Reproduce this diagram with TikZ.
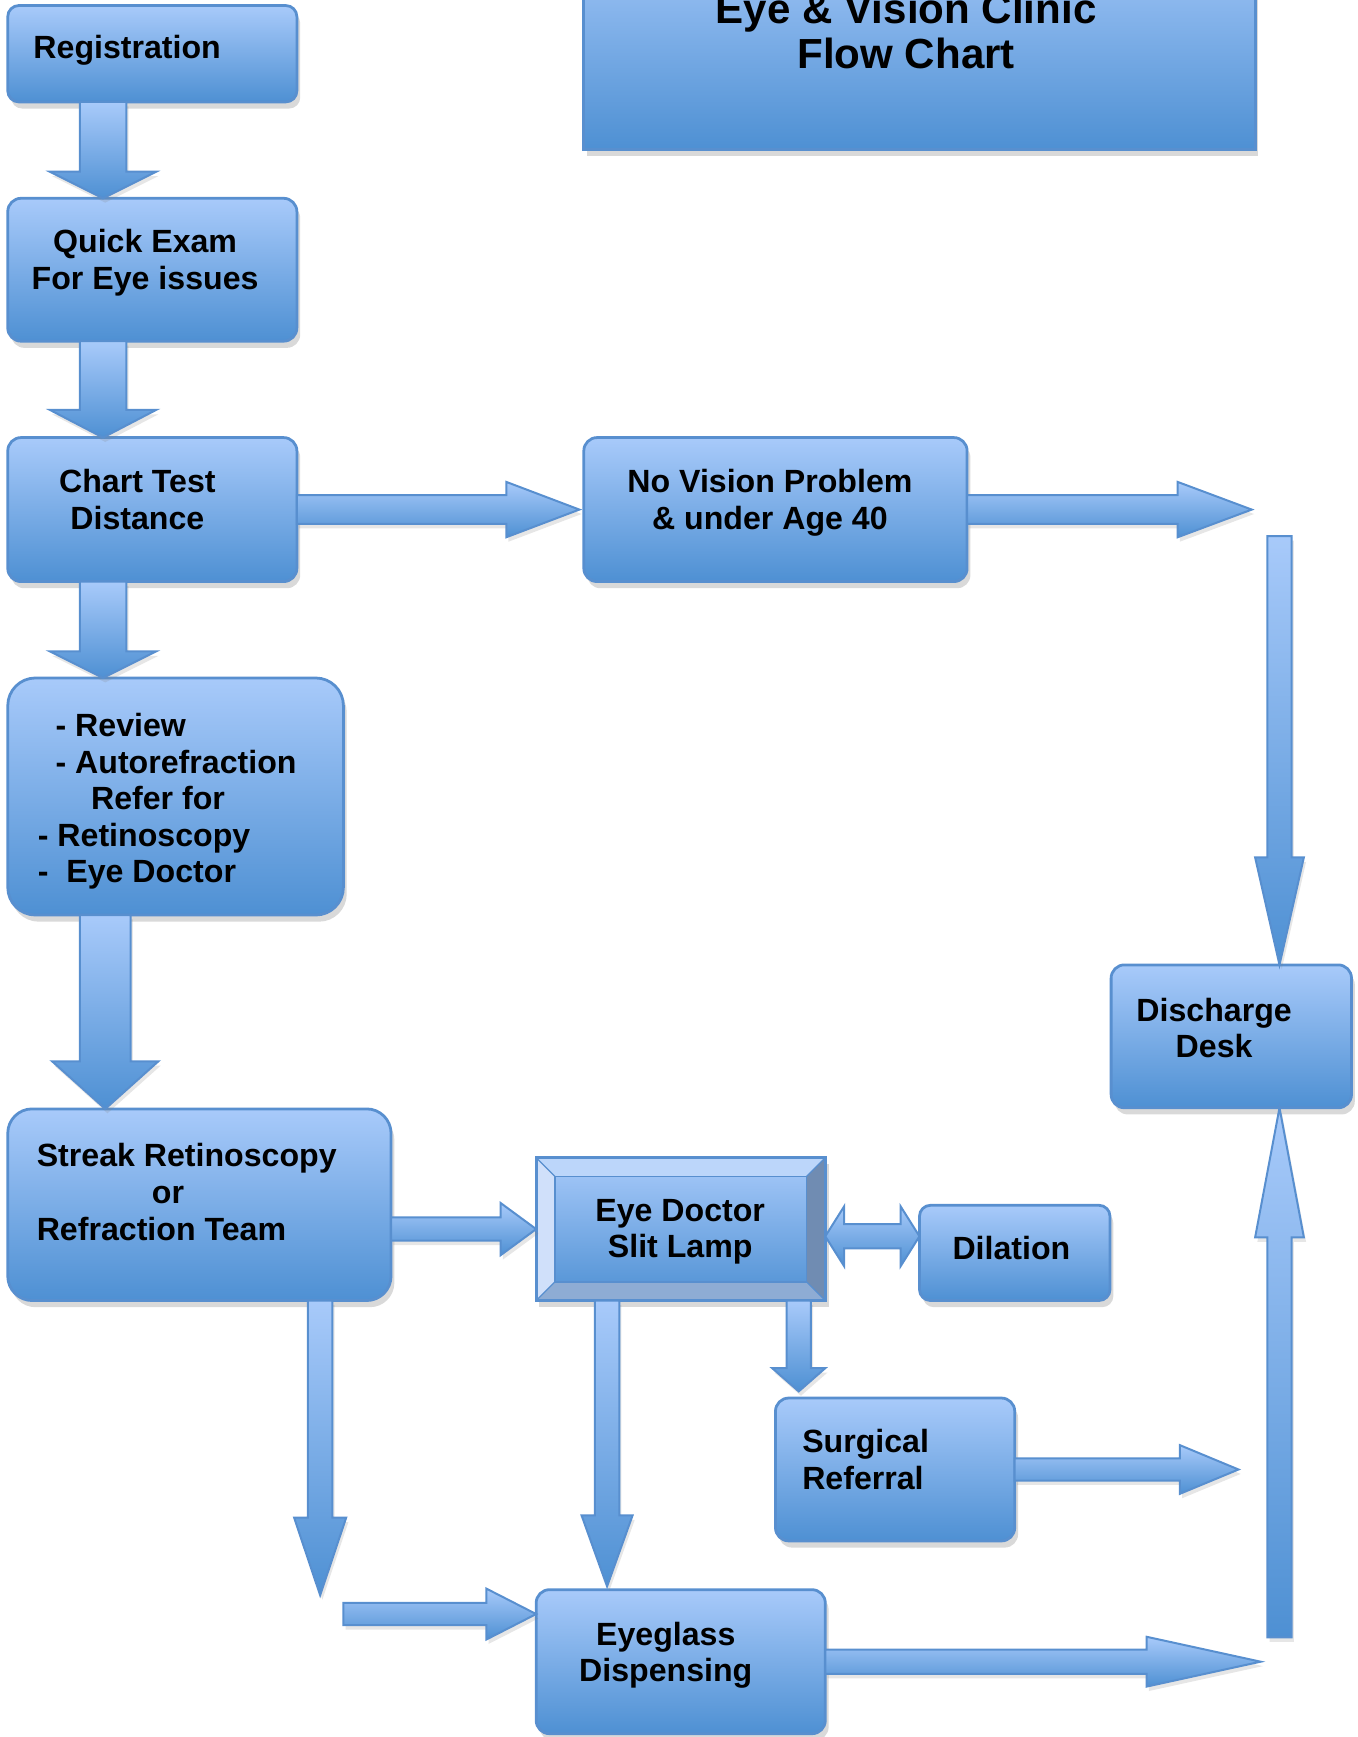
\documentclass[tikz,border=0pt]{standalone}
\usepackage{fontspec}
\setmainfont{Liberation Sans}
\usetikzlibrary{calc,positioning,shadows}

\definecolor{boxtop}{RGB}{168,202,250}
\definecolor{boxbot}{RGB}{78,144,211}
\definecolor{boxline}{RGB}{88,143,207}
\definecolor{facettop}{RGB}{188,214,250}
\definecolor{facetleft}{RGB}{208,224,250}
\definecolor{facetright}{RGB}{112,140,178}
\definecolor{facetbottom}{RGB}{142,172,212}

\tikzset{
  box/.style={draw=boxline, line width=2.5pt, rounded corners=12pt, top color=boxtop, bottom color=boxbot,
    outer sep=0pt, inner sep=0pt, drop shadow={shadow xshift=3pt, shadow yshift=-6pt, opacity=.3}},
  txt/.style={font=\bfseries\fontsize{29}{33}\selectfont, align=center, inner sep=0pt},
  % block arrow: half shaft, half head, head length
  flowarrow/.style n args={3}{draw=boxline, line width=1.8pt, top color=boxtop, bottom color=boxbot,
    drop shadow={shadow xshift=2pt, shadow yshift=-4pt, opacity=.2},
    to path={
      ($(\tikztostart)!#1!90:(\tikztotarget)$)
      -- ($($(\tikztotarget)!#3!(\tikztostart)$)!#1!-90:(\tikztostart)$)
      -- ($($(\tikztotarget)!#3!(\tikztostart)$)!#2!-90:(\tikztostart)$)
      -- (\tikztotarget)
      -- ($($(\tikztotarget)!#3!(\tikztostart)$)!#2!90:(\tikztostart)$)
      -- ($($(\tikztotarget)!#3!(\tikztostart)$)!#1!90:(\tikztostart)$)
      -- ($(\tikztostart)!#1!-90:(\tikztotarget)$)
      -- cycle}},
  % same, head at both ends
  duoarrow/.style n args={3}{draw=boxline, line width=1.8pt, top color=boxtop, bottom color=boxbot,
    to path={
      (\tikztostart)
      -- ($($(\tikztostart)!#3!(\tikztotarget)$)!#2!90:(\tikztotarget)$)
      -- ($($(\tikztostart)!#3!(\tikztotarget)$)!#1!90:(\tikztotarget)$)
      -- ($($(\tikztotarget)!#3!(\tikztostart)$)!#1!-90:(\tikztostart)$)
      -- ($($(\tikztotarget)!#3!(\tikztostart)$)!#2!-90:(\tikztostart)$)
      -- (\tikztotarget)
      -- ($($(\tikztotarget)!#3!(\tikztostart)$)!#2!90:(\tikztostart)$)
      -- ($($(\tikztotarget)!#3!(\tikztostart)$)!#1!90:(\tikztostart)$)
      -- ($($(\tikztostart)!#3!(\tikztotarget)$)!#1!-90:(\tikztotarget)$)
      -- ($($(\tikztostart)!#3!(\tikztotarget)$)!#2!-90:(\tikztotarget)$)
      -- cycle}},
}

\begin{document}
\begin{tikzpicture}[x=1pt, y=-1pt]
    \path[use as bounding box] (0,0) rectangle (1225,1568);
    \clip (0,0) rectangle (1225,1568);

    % title
    \node[box, sharp corners, minimum width=606pt, minimum height=200pt] (title) at (830,35) {};
    \node[txt, font=\bfseries\fontsize{38}{40}\selectfont] (title-t) at (818,28) {Eye \& Vision Clinic\\Flow Chart};

    % left column
    \node[box, rounded corners=10pt, minimum width=261pt, minimum height=87pt] (reg) at (137.5,48.5) {};
    \node[box, minimum width=261pt, minimum height=129pt, below=87pt of reg] (quick) {};
    \node[box, minimum width=261pt, minimum height=130pt, below=87pt of quick] (chart) {};
    \node[box, rounded corners=25pt, minimum width=303pt, minimum height=214pt, below=87pt of chart.south west, anchor=north west] (review) {};
    \node[box, rounded corners=22pt, minimum width=346pt, minimum height=173pt, below=175pt of review.south west, anchor=north west] (streak) {};
    \node[txt, anchor=west] (reg-t) at (30,45) {Registration};
    \node[txt] (quick-t) at (131,237) {Quick Exam\\For Eye issues};
    \node[txt] (chart-t) at (124,451) {Chart Test\\Distance};
    \node[txt, align=left, anchor=west] (review-t) at (34,723.5) {\hspace*{16pt}- Review\\\hspace*{16pt}- Autorefraction\\\hspace*{48pt}Refer for\\- Retinoscopy\\-\ \ Eye Doctor};
    \node[txt, align=left, anchor=west] (streak-t) at (33,1076) {Streak Retinoscopy\\\hspace*{104pt}or\\Refraction Team};

    % right part
    \node[box, minimum width=346pt, minimum height=130pt, right=259pt of chart] (novis) {};
    \node[txt] (novis-t) at (695,454) {No Vision Problem\\\& under Age 40};
    \node[box, minimum width=217pt, minimum height=129pt] (dd) at (1111.5,935.5) {};
    \node[txt] (dd-t) at (1096,928) {Discharge\\Desk};
    \node[box, sharp corners, minimum width=261pt, minimum height=129pt] (doc) at (614.5,1109.5) {};
    \fill[facettop] (doc.north west) -- (doc.north east) -- ([shift={(-17,17)}]doc.north east) -- ([shift={(17,17)}]doc.north west) -- cycle;
    \fill[facetright] (doc.north east) -- (doc.south east) -- ([shift={(-17,-17)}]doc.south east) -- ([shift={(-17,17)}]doc.north east) -- cycle;
    \fill[facetbottom] (doc.south east) -- (doc.south west) -- ([shift={(17,-17)}]doc.south west) -- ([shift={(-17,-17)}]doc.south east) -- cycle;
    \fill[facetleft] (doc.south west) -- (doc.north west) -- ([shift={(17,17)}]doc.north west) -- ([shift={(17,-17)}]doc.south west) -- cycle;
    \draw[boxline, line width=1.5pt] ([shift={(17,17)}]doc.north west) rectangle ([shift={(-17,-17)}]doc.south east);
    \draw[boxline, line width=1.2pt] (doc.north west) -- ++(17,17) (doc.north east) -- ++(-17,17)
        (doc.south west) -- ++(17,-17) (doc.south east) -- ++(-17,-17);
    \draw[boxline, line width=2.5pt] (doc.north west) rectangle (doc.south east);
    \node[txt] (doc-t) at (614,1112) {Eye Doctor\\Slit Lamp};
    \node[box, rounded corners=10pt, minimum width=172pt, minimum height=86pt] (dil) at (916,1131) {};
    \node[txt] (dil-t) at (913,1127) {Dilation};
    \node[box, minimum width=216pt, minimum height=129pt] (surg) at (808,1326.5) {};
    \node[txt, align=left, anchor=west] (surg-t) at (724,1317.5) {Surgical\\Referral};
    \node[box, minimum width=261pt, minimum height=130pt] (glass) at (614.5,1500) {};
    \node[txt] (glass-t) at (601,1494) {Eyeglass\\Dispensing};

    % free ends
    \coordinate (nvend) at (1130,460);
    \coordinate (ddtop) at (1155,484);
    \coordinate (surgend) at (1118,1326.5);
    \coordinate (streakend) at (289,1440);
    \coordinate (glassin) at (310,1457);
    \coordinate (glassend) at (1138,1500);
    \coordinate (ddbot) at (1155,1478);

    % arrows
    \draw[flowarrow={21pt}{48pt}{24pt}] ([xshift=-44.5pt]reg.south) to ([xshift=-44.5pt]quick.north);
    \draw[flowarrow={21pt}{48pt}{25pt}] ([xshift=-44.5pt]quick.south) to ([xshift=-44.5pt]chart.north);
    \draw[flowarrow={21pt}{48pt}{24pt}] ([xshift=-44.5pt]chart.south) to ([xshift=-65.5pt]review.north);
    \draw[flowarrow={23pt}{48pt}{43pt}] ([xshift=-63.5pt]review.south) to ([xshift=-85pt]streak.north);
    \draw[flowarrow={13pt}{25pt}{66pt}] (chart.east) to ([xshift=-4pt]novis.west);
    \draw[flowarrow={13pt}{25pt}{67pt}] (novis.east) to (nvend);
    \draw[flowarrow={11pt}{22pt}{97pt}] (ddtop) to (ddtop |- dd.north);
    \draw[flowarrow={10.5pt}{23.5pt}{32pt}] (streak.east |- doc.west) to (doc.west);
    \draw[duoarrow={11pt}{27pt}{17pt}] ([yshift=-6.5pt]doc.east) to ([yshift=15pt]dil.west);
    \draw[flowarrow={11pt}{24pt}{21pt}] ([xshift=106.5pt]doc.south) to ([xshift=-87pt,yshift=6pt]surg.north);
    \draw[flowarrow={10pt}{22pt}{53pt}] (surg.east) to (surgend);
    \draw[flowarrow={11pt}{23pt}{64pt}] ([xshift=-66.5pt]doc.south) to ([xshift=-66.5pt,yshift=3pt]glass.north);
    \draw[flowarrow={11pt}{23.5pt}{70pt}] ([xshift=109pt]streak.south) to (streakend);
    \draw[flowarrow={10pt}{23pt}{45pt}] (glassin) to (glassin -| glass.west);
    \draw[flowarrow={11pt}{22.5pt}{103pt}] (glass.east) to (glassend);
    \draw[flowarrow={11pt}{22pt}{117pt}] (ddbot) to (ddbot |- dd.south);
\end{tikzpicture}
\end{document}
